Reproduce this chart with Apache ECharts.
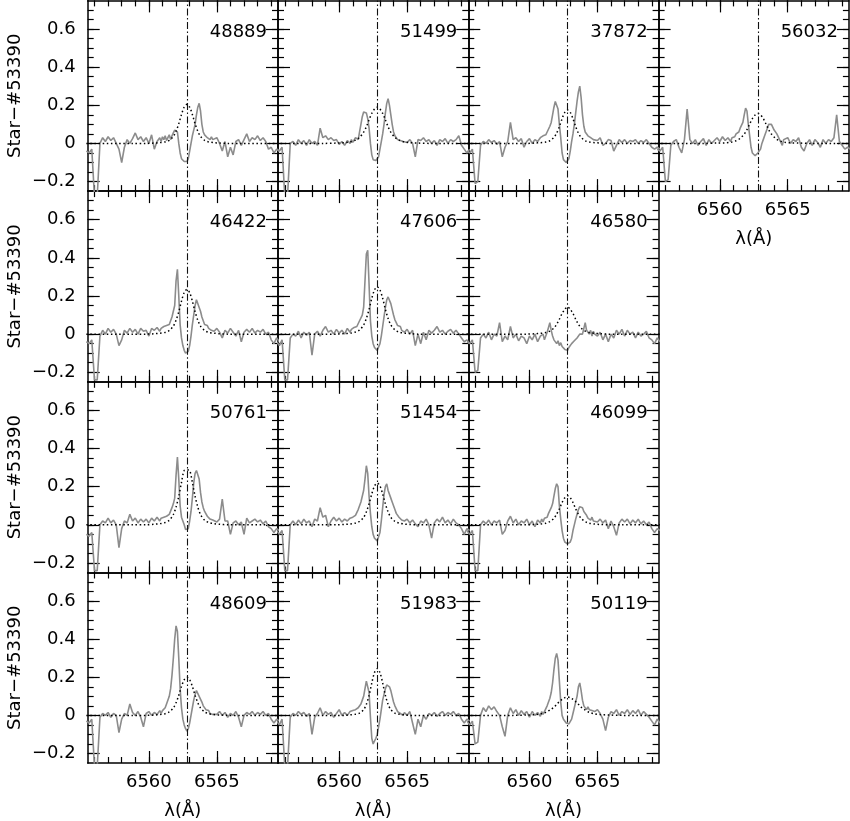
<!DOCTYPE html>
<html><head><meta charset="utf-8">
<script src="https://cdn.jsdelivr.net/npm/echarts@6/dist/echarts.min.js"></script>
<style>html,body{margin:0;padding:0;background:#fff}#chart{width:850px;height:821px}</style>
</head><body><div id="chart"></div>
<script>
// ---------- data ----------
const wavelength = [
  6555.4, 6555.6, 6555.8, 6556.0, 6556.2, 6556.4, 6556.6, 6556.8, 6557.0, 6557.2, 6557.4, 6557.6, 6557.8, 6558.0,
  6558.2, 6558.4, 6558.6, 6558.8, 6559.0, 6559.2, 6559.4, 6559.6, 6559.8, 6560.0, 6560.2, 6560.4, 6560.6, 6560.8,
  6560.9, 6561.0, 6561.1, 6561.2, 6561.3, 6561.4, 6561.5, 6561.6, 6561.7, 6561.8, 6561.9, 6562.0, 6562.1, 6562.2,
  6562.3, 6562.4, 6562.5, 6562.6, 6562.7, 6562.8, 6562.9, 6563.0, 6563.1, 6563.2, 6563.3, 6563.4, 6563.5, 6563.6,
  6563.7, 6563.8, 6563.9, 6564.0, 6564.1, 6564.2, 6564.3, 6564.4, 6564.5, 6564.6, 6564.7, 6564.8,
  6565.0, 6565.2, 6565.4, 6565.6, 6565.8, 6566.0, 6566.2, 6566.4, 6566.6, 6566.8, 6567.0, 6567.2, 6567.4, 6567.6,
  6567.8, 6568.0, 6568.2, 6568.4, 6568.6, 6568.8, 6569.0, 6569.2, 6569.4, 6569.6
];
const modelWavelength = [6555.4, 6558.8, 6559.8, 6560.4, 6560.8, 6561.2, 6561.5, 6561.8, 6562.0, 6562.2, 6562.4, 6562.6,
  6562.8, 6563.0, 6563.2, 6563.4, 6563.6, 6563.8, 6564.1, 6564.4, 6564.8, 6565.2, 6565.8, 6566.8, 6569.6];
const restWavelength = 6562.8;
const starIds = ['48889','51499','37872','56032','46422','47606','46580','50761','51454','46099','48609','51983','50119'];

const flux_48889 = [
  -0.04,-0.05,-0.03,-0.28,-0.28,0.0,0.03,0.01,0.035,0.015,0.03,0.0,-0.03,-0.1,-0.02,0.02,0.0,0.025,0.055,0.02,0.035,0.01,0.03,0.0,0.045,-0.03,0.01,0.03,
  0.01,0.035,0.02,0.04,0.015,0.03,0.045,0.02,0.04,0.055,0.07,0.08,0.06,0.0,-0.05,-0.08,-0.09,-0.095,-0.09,-0.095,-0.08,-0.04,0.0,0.04,0.07,0.1,0.15,0.19,0.21,0.17,0.1,0.06,0.045,0.05,0.03,0.04,0.02,0.035,0.02,0.01,
  0.03,0.0,-0.04,0.01,-0.07,-0.02,-0.06,0.01,0.02,-0.01,0.02,0.05,0.01,0.03,0.02,0.04,0.015,0.03,0.01,-0.03,-0.02,-0.05,-0.03,-0.04];
const flux_51499 = [
  -0.03,-0.04,-0.02,-0.28,-0.28,0.0,0.01,-0.01,0.02,0.0,0.015,-0.01,0.02,0.0,0.01,-0.01,0.08,0.03,0.04,0.02,0.03,0.015,0.02,-0.005,0.01,-0.01,0.015,0.0,
  0.02,0.005,0.01,0.03,0.035,0.02,0.06,0.1,0.14,0.165,0.175,0.16,0.13,0.08,0.0,-0.06,-0.085,-0.09,-0.09,-0.085,-0.07,-0.03,0.01,0.05,0.1,0.16,0.21,0.235,0.2,0.15,0.1,0.06,0.04,0.035,0.02,0.03,0.015,0.025,0.01,0.02,
  0.005,0.02,0.0,-0.07,0.02,0.015,0.03,0.01,0.02,0.0,0.015,-0.01,0.02,0.01,0.025,0.0,0.02,0.01,0.02,0.04,-0.01,-0.03,-0.05,-0.03];
const flux_37872 = [
  -0.04,-0.05,-0.03,-0.21,-0.2,-0.01,0.01,0.0,0.02,0.005,0.015,-0.005,0.01,-0.07,-0.02,0.01,0.11,0.02,0.03,0.01,0.025,-0.02,0.01,0.025,0.0,0.02,0.01,0.03,
  0.02,0.04,0.03,0.045,0.06,0.07,0.09,0.11,0.15,0.19,0.22,0.23,0.18,0.1,0.03,-0.05,-0.085,-0.095,-0.1,-0.095,-0.08,-0.04,0.01,0.05,0.1,0.16,0.22,0.27,0.3,0.24,0.15,0.09,0.06,0.05,0.04,0.045,0.03,0.035,0.02,0.03,
  0.015,0.03,-0.01,0.0,0.02,0.015,-0.04,-0.01,0.02,0.005,0.02,0.0,0.015,0.01,0.02,0.0,0.015,0.005,0.02,0.0,-0.02,-0.03,-0.02,-0.03];
const flux_56032 = [
  -0.03,-0.04,-0.02,-0.2,-0.19,-0.01,0.01,0.02,-0.02,-0.05,0.02,0.18,0.02,0.0,0.02,-0.01,0.01,0.025,-0.01,0.02,0.0,0.015,0.03,0.01,0.035,0.015,0.03,0.01,
  0.03,0.02,0.035,0.05,0.04,0.06,0.08,0.09,0.11,0.15,0.185,0.17,0.1,0.04,-0.02,-0.05,-0.06,-0.065,-0.06,-0.05,-0.045,-0.03,0.0,0.02,0.04,0.06,0.08,0.1,0.11,0.1,0.09,0.07,0.065,0.05,0.04,0.02,0.03,-0.01,0.02,0.01,
  0.03,0.0,0.02,0.01,0.03,-0.02,-0.04,0.0,0.02,-0.01,0.02,0.005,-0.02,0.02,0.0,0.02,0.01,0.03,0.15,0.01,-0.01,-0.03,-0.02,-0.03];
const flux_46422 = [
  -0.04,-0.05,-0.03,-0.24,-0.24,-0.01,0.02,0.0,0.03,0.01,0.025,0.0,-0.06,-0.03,0.02,0.005,0.03,0.01,0.025,0.0,0.03,0.015,0.02,-0.01,0.03,0.02,0.035,0.015,
  0.03,0.02,0.04,0.03,0.045,0.04,0.05,0.06,0.09,0.12,0.15,0.28,0.34,0.2,0.05,-0.02,-0.06,-0.085,-0.1,-0.1,-0.09,-0.06,-0.01,0.05,0.1,0.15,0.18,0.17,0.14,0.12,0.09,0.07,0.05,0.04,0.045,0.03,0.04,0.02,0.03,0.015,
  0.03,0.01,-0.02,0.02,0.005,0.03,0.01,-0.01,0.02,-0.04,0.01,0.025,0.01,0.03,0.005,0.02,0.01,0.025,0.0,0.01,-0.03,-0.05,-0.02,-0.04];
const flux_47606 = [
  -0.04,-0.06,-0.03,-0.24,-0.24,-0.02,0.0,-0.01,0.015,-0.02,0.01,-0.005,0.01,-0.11,0.0,0.015,-0.01,0.02,0.04,0.01,0.02,0.0,0.025,0.005,0.02,0.0,0.03,0.01,
  0.025,0.02,0.035,0.025,0.04,0.05,0.07,0.08,0.1,0.14,0.28,0.42,0.44,0.26,0.07,-0.01,-0.05,-0.07,-0.08,-0.085,-0.08,-0.05,-0.01,0.04,0.09,0.14,0.18,0.195,0.19,0.16,0.13,0.1,0.075,0.06,0.045,0.035,0.04,0.02,0.03,0.01,
  0.025,0.0,0.02,-0.06,0.0,-0.05,0.01,-0.03,0.02,0.005,0.02,0.04,0.01,0.02,0.0,0.015,0.025,0.005,0.02,0.0,-0.02,-0.04,-0.03,-0.05];
const flux_46580 = [
  -0.04,-0.05,-0.03,-0.2,-0.19,-0.02,0.0,-0.02,0.01,-0.03,0.0,-0.01,0.06,-0.04,-0.01,-0.03,0.04,-0.02,0.0,-0.035,-0.01,-0.02,-0.05,-0.01,-0.03,0.0,-0.04,-0.01,
  -0.02,0.0,-0.03,-0.01,0.01,0.02,0.06,0.02,-0.01,-0.03,-0.02,-0.05,-0.035,-0.06,-0.045,-0.065,-0.055,-0.08,-0.075,-0.085,-0.07,-0.075,-0.05,-0.055,-0.035,-0.04,-0.02,-0.03,0.0,0.01,0.0,0.03,0.06,0.02,0.03,0.0,0.02,-0.01,0.015,0.0,
  -0.01,0.01,-0.03,0.0,-0.04,0.0,-0.02,0.02,0.0,0.025,-0.01,0.02,0.0,0.01,-0.02,0.01,-0.01,0.0,0.015,-0.02,-0.03,-0.05,-0.02,-0.04];
const flux_50761 = [
  -0.05,-0.06,-0.04,-0.24,-0.24,0.0,0.02,0.01,0.035,0.01,0.025,0.0,-0.12,-0.02,0.02,0.01,0.055,0.02,0.035,0.01,0.03,0.015,0.03,0.01,0.035,0.02,0.04,0.02,
  0.035,0.025,0.04,0.03,0.045,0.04,0.055,0.06,0.09,0.11,0.14,0.26,0.355,0.24,0.1,0.04,0.02,0.0,-0.025,-0.035,-0.02,0.02,0.07,0.14,0.22,0.27,0.285,0.28,0.24,0.17,0.12,0.09,0.07,0.06,0.045,0.05,0.03,0.04,0.025,0.03,
  0.015,0.03,0.135,0.02,0.02,-0.05,0.01,0.02,0.0,0.015,-0.05,0.035,0.01,0.02,0.03,0.015,0.025,0.005,0.02,-0.01,-0.02,-0.04,-0.02,-0.03];
const flux_51454 = [
  -0.03,-0.05,-0.03,-0.24,-0.24,0.0,0.02,0.0,0.025,0.005,0.03,0.01,0.02,-0.01,0.03,0.02,0.09,0.04,0.05,-0.01,0.02,0.04,0.02,0.035,0.015,0.03,0.02,0.035,
  0.025,0.04,0.03,0.05,0.06,0.08,0.1,0.12,0.15,0.18,0.24,0.31,0.27,0.15,0.06,-0.01,-0.05,-0.07,-0.08,-0.085,-0.075,-0.04,0.02,0.09,0.16,0.2,0.215,0.18,0.17,0.14,0.12,0.1,0.08,0.06,0.05,0.04,0.045,0.025,0.035,0.02,
  0.03,0.01,0.025,0.005,-0.01,0.02,0.01,0.03,0.0,-0.07,0.01,0.03,0.015,0.04,0.01,0.025,0.005,0.03,0.01,0.0,-0.02,-0.05,-0.02,-0.03];
const flux_46099 = [
  -0.03,-0.05,-0.03,-0.24,-0.24,0.0,0.02,0.005,0.025,0.0,0.02,0.01,0.025,-0.05,-0.03,0.02,0.045,0.01,0.03,0.0,0.02,0.01,0.03,0.0,0.02,-0.01,0.025,0.01,
  0.03,0.015,0.035,0.025,0.04,0.06,0.07,0.09,0.11,0.15,0.19,0.215,0.2,0.1,0.03,-0.03,-0.07,-0.09,-0.1,-0.1,-0.1,-0.09,-0.07,-0.03,0.0,0.03,0.055,0.08,0.095,0.1,0.09,0.07,0.06,0.05,0.035,0.045,0.025,0.04,0.02,0.03,
  0.015,0.03,0.01,0.025,-0.02,0.02,-0.01,-0.055,0.01,0.03,0.015,0.03,0.005,0.025,0.01,0.03,0.005,0.02,0.0,0.015,-0.02,-0.04,-0.02,-0.03];
const flux_48609 = [
  -0.03,-0.04,-0.02,-0.27,-0.27,-0.01,0.01,0.0,0.015,-0.01,0.01,0.0,-0.09,-0.02,0.01,0.0,0.06,0.015,0.0,0.02,-0.01,-0.06,0.01,0.02,0.0,0.015,0.005,0.025,
  0.01,0.025,0.02,0.04,0.06,0.07,0.1,0.14,0.21,0.3,0.4,0.47,0.44,0.3,0.14,0.04,-0.02,-0.05,-0.07,-0.082,-0.07,-0.04,0.0,0.04,0.08,0.11,0.13,0.12,0.1,0.09,0.07,0.05,0.04,0.03,0.02,0.025,0.01,0.02,0.005,0.015,
  0.005,0.02,0.0,0.015,-0.01,0.01,0.0,0.02,-0.01,-0.06,0.0,0.015,0.005,0.02,0.0,0.015,0.005,0.02,0.0,0.01,-0.02,-0.04,-0.02,-0.03];
const flux_51983 = [
  -0.03,-0.05,-0.02,-0.27,-0.27,-0.01,0.01,0.0,0.02,0.005,0.015,-0.005,0.01,-0.1,-0.01,0.01,0.04,0.0,0.02,0.005,0.015,-0.01,0.01,0.03,0.0,0.015,0.0,0.02,
  0.01,0.025,0.015,0.03,0.025,0.04,0.05,0.06,0.08,0.1,0.14,0.18,0.19,0.12,-0.01,-0.12,-0.15,-0.14,-0.12,-0.1,-0.06,-0.02,0.03,0.08,0.11,0.14,0.16,0.165,0.15,0.13,0.1,0.07,0.05,0.04,0.02,0.03,0.01,0.02,0.0,0.015,
  0.0,0.02,-0.04,-0.1,-0.02,-0.06,0.0,-0.02,0.01,0.0,0.015,-0.005,0.01,0.02,0.0,0.015,0.005,0.02,0.0,0.01,-0.02,-0.04,-0.02,-0.03];
const flux_50119 = [
  -0.03,-0.05,-0.03,-0.15,-0.14,0.0,0.04,0.02,0.05,0.03,0.045,0.02,0.0,-0.06,-0.11,0.0,0.04,0.01,0.03,0.0,0.025,0.005,0.02,-0.01,0.02,0.0,0.015,-0.005,
  0.02,0.005,0.02,0.03,0.05,0.07,0.09,0.12,0.17,0.24,0.3,0.325,0.29,0.18,0.07,0.0,-0.02,-0.03,-0.04,-0.045,-0.045,-0.04,-0.02,0.01,0.04,0.07,0.1,0.15,0.17,0.13,0.08,0.05,0.04,0.03,0.045,0.03,0.04,0.025,0.035,0.02,
  0.03,0.01,-0.02,-0.08,-0.01,0.02,0.01,0.03,0.0,0.02,0.01,0.03,0.005,0.025,0.01,0.03,0.0,0.02,0.005,-0.01,-0.03,-0.05,-0.02,-0.04];

const fit_48889 = [0,0,0,0.002,0.004,0.008,0.016,0.037,0.064,0.103,0.152,0.19,0.205,0.19,0.152,0.103,0.064,0.037,0.016,0.008,0.004,0.002,0,0,0];
const fit_51499 = [0,0,0.002,0.004,0.008,0.017,0.032,0.059,0.087,0.124,0.158,0.18,0.19,0.18,0.158,0.124,0.087,0.059,0.032,0.017,0.008,0.004,0.002,0,0];
const fit_37872 = [0,0,0,0.002,0.004,0.007,0.014,0.032,0.054,0.088,0.13,0.163,0.175,0.163,0.13,0.088,0.054,0.032,0.014,0.007,0.004,0.002,0,0,0];
const fit_56032 = [0,0,0.002,0.003,0.006,0.014,0.027,0.049,0.072,0.102,0.13,0.149,0.157,0.149,0.13,0.102,0.072,0.049,0.027,0.014,0.006,0.003,0.002,0,0];
const fit_46422 = [0,0,0,0.002,0.005,0.009,0.019,0.042,0.073,0.117,0.173,0.218,0.234,0.218,0.173,0.117,0.073,0.042,0.019,0.009,0.005,0.002,0,0,0];
const fit_47606 = [0,0,0,0.003,0.005,0.011,0.022,0.048,0.082,0.13,0.188,0.232,0.248,0.232,0.188,0.13,0.082,0.048,0.022,0.011,0.005,0.003,0,0,0];
const fit_46580 = [0,0,0,0.002,0.004,0.008,0.016,0.032,0.052,0.078,0.108,0.13,0.143,0.13,0.108,0.078,0.052,0.032,0.016,0.008,0.004,0.002,0,0,0];
const fit_50761 = [0,0,0,0.003,0.006,0.012,0.024,0.054,0.093,0.15,0.222,0.285,0.288,0.285,0.222,0.15,0.093,0.054,0.024,0.012,0.006,0.003,0,0,0];
const fit_51454 = [0,0,0,0.002,0.004,0.009,0.018,0.039,0.068,0.11,0.162,0.204,0.219,0.204,0.162,0.11,0.068,0.039,0.018,0.009,0.004,0.002,0,0,0];
const fit_46099 = [0,0,0,0.002,0.004,0.008,0.017,0.034,0.056,0.084,0.117,0.142,0.152,0.142,0.117,0.084,0.056,0.034,0.017,0.008,0.004,0.002,0,0,0];
const fit_48609 = [0,0,0,0.002,0.004,0.009,0.018,0.039,0.066,0.105,0.152,0.187,0.2,0.187,0.152,0.105,0.066,0.039,0.018,0.009,0.004,0.002,0,0,0];
const fit_51983 = [0,0,0,0,0.003,0.006,0.012,0.03,0.058,0.105,0.17,0.225,0.245,0.225,0.17,0.105,0.058,0.03,0.012,0.006,0.003,0,0,0,0];
const fit_50119 = [0,0,0.002,0.004,0.008,0.016,0.028,0.043,0.058,0.072,0.084,0.093,0.096,0.093,0.084,0.072,0.058,0.043,0.028,0.016,0.008,0.004,0.002,0,0];

const fluxes = [flux_48889, flux_51499, flux_37872, flux_56032, flux_46422, flux_47606, flux_46580,
  flux_50761, flux_51454, flux_46099, flux_48609, flux_51983, flux_50119];
const fits = [fit_48889, fit_51499, fit_37872, fit_56032, fit_46422, fit_47606, fit_46580,
  fit_50761, fit_51454, fit_46099, fit_48609, fit_51983, fit_50119];

const xMin = 6555.5, xMax = 6569.5, yMin = -0.25, yMax = 0.75;
const xMajorTicks = [6560, 6565];
const xMinorTicks = [6556, 6557, 6558, 6559, 6560, 6561, 6562, 6563, 6564, 6565, 6566, 6567, 6568, 6569];
const yMajorTicks = [-0.2, 0, 0.2, 0.4, 0.6];
const yMinorTicks = [-0.2, -0.15, -0.1, -0.05, 0, 0.05, 0.1, 0.15, 0.2, 0.25, 0.3, 0.35, 0.4, 0.45, 0.5, 0.55, 0.6, 0.65, 0.7];
const xAxisTitle = 'λ(Å)';
const yAxisTitle = 'Star\u2212#53390';

// ---------- layout ----------
const layout = [[0,0],[0,1],[0,2],[0,3],[1,0],[1,1],[1,2],[2,0],[2,1],[2,2],[3,0],[3,1],[3,2]];
const P_LEFT = 87.7, P_TOP = 0.4, P_W = 190.3, P_H = 190.7, CW = 850;
const FONT = 'DejaVu Sans';
const frameStyle = {color: '#000', width: 1.5};
const tickStyle = {color: '#000', width: 1.2};
const textStyle = {fontSize: 18, fontFamily: FONT, color: '#000'};

const grid = [], xAxis = [], yAxis = [], series = [], title = [];
starIds.forEach((id, g) => {
  const [row, col] = layout[g];
  const left = P_LEFT + col * P_W, top = P_TOP + row * P_H;
  grid.push({left: left, top: top, width: P_W, height: P_H});
  const showX = row === 3 || (row === 0 && col === 3);
  const showY = col === 0;
  const xb = {gridIndex: g, type: 'value', min: xMin, max: xMax, splitLine: {show: false}, minorTick: {show: false}};
  const yb = {gridIndex: g, type: 'value', min: yMin, max: yMax, splitLine: {show: false}, minorTick: {show: false}};
  const xi = xAxis.length, yi = yAxis.length;
  xAxis.push(Object.assign({}, xb, {position: 'bottom',
    axisLine: {show: true, onZero: false, lineStyle: frameStyle},
    axisTick: {show: true, inside: true, length: 6, customValues: xMinorTicks, lineStyle: tickStyle},
    axisLabel: Object.assign({show: showX, customValues: xMajorTicks, margin: 10, formatter: v => String(v)}, textStyle),
    name: showX ? xAxisTitle : '', nameLocation: 'middle', nameGap: 39, nameTextStyle: textStyle}));
  xAxis.push(Object.assign({}, xb, {position: 'bottom', axisLine: {show: false, onZero: false},
    axisTick: {show: true, inside: true, length: 12, customValues: xMajorTicks, lineStyle: tickStyle},
    axisLabel: {show: false, customValues: xMajorTicks}}));
  xAxis.push(Object.assign({}, xb, {position: 'top',
    axisLine: {show: true, onZero: false, lineStyle: frameStyle},
    axisTick: {show: true, inside: true, length: 6, customValues: xMinorTicks, lineStyle: tickStyle},
    axisLabel: {show: false, customValues: xMinorTicks}}));
  xAxis.push(Object.assign({}, xb, {position: 'top', axisLine: {show: false, onZero: false},
    axisTick: {show: true, inside: true, length: 12, customValues: xMajorTicks, lineStyle: tickStyle},
    axisLabel: {show: false, customValues: xMajorTicks}}));

  yAxis.push(Object.assign({}, yb, {position: 'left',
    axisLine: {show: true, onZero: false, lineStyle: frameStyle},
    axisTick: {show: true, inside: true, length: 6, customValues: yMinorTicks, lineStyle: tickStyle},
    axisLabel: Object.assign({show: showY, customValues: yMajorTicks, margin: 12,
      formatter: v => (v < 0 ? '\u2212' + String(Math.abs(v)) : String(v))}, textStyle),
    name: showY ? yAxisTitle : '', nameLocation: 'middle', nameRotate: 90, nameGap: 63, nameTextStyle: textStyle}));
  yAxis.push(Object.assign({}, yb, {position: 'left', axisLine: {show: false, onZero: false},
    axisTick: {show: true, inside: true, length: 12, customValues: yMajorTicks, lineStyle: tickStyle},
    axisLabel: {show: false, customValues: yMajorTicks}}));
  yAxis.push(Object.assign({}, yb, {position: 'right',
    axisLine: {show: true, onZero: false, lineStyle: frameStyle},
    axisTick: {show: true, inside: true, length: 6, customValues: yMinorTicks, lineStyle: tickStyle},
    axisLabel: {show: false, customValues: yMinorTicks}}));
  yAxis.push(Object.assign({}, yb, {position: 'right', axisLine: {show: false, onZero: false},
    axisTick: {show: true, inside: true, length: 12, customValues: yMajorTicks, lineStyle: tickStyle},
    axisLabel: {show: false, customValues: yMajorTicks}}));

  const flux = fluxes[g], fit = fits[g];
  series.push({
    type: 'line', xAxisIndex: xi, yAxisIndex: yi, showSymbol: false, symbol: 'none', clip: true, z: 2,
    lineStyle: {color: '#8c8c8c', width: 1.6},
    data: wavelength.map((w, i) => [w, flux[i]])
  });
  series.push({
    type: 'line', xAxisIndex: xi, yAxisIndex: yi, showSymbol: false, symbol: 'none', clip: true, z: 3,
    lineStyle: {color: '#000', width: 1.5, type: [1.5, 2.6]}, smooth: 0.3,
    data: modelWavelength.map((w, i) => [w, fit[i]]),
    markLine: {silent: true, symbol: ['none', 'none'], label: {show: false},
      lineStyle: {color: '#111', width: 1.1, type: [7, 2.5, 1.5, 2.5]},
      data: [{xAxis: restWavelength}]}
  });
  title.push({text: id, right: CW - (left + P_W) + 11, top: top + 22.6, padding: 0,
    textStyle: {fontSize: 18, fontFamily: FONT, fontWeight: 'normal', color: '#000'}});
});

const chart = echarts.init(document.getElementById('chart'), null, {renderer: 'canvas'});
chart.setOption({animation: false, backgroundColor: '#fff', title, grid, xAxis, yAxis, series});
</script></body></html>
